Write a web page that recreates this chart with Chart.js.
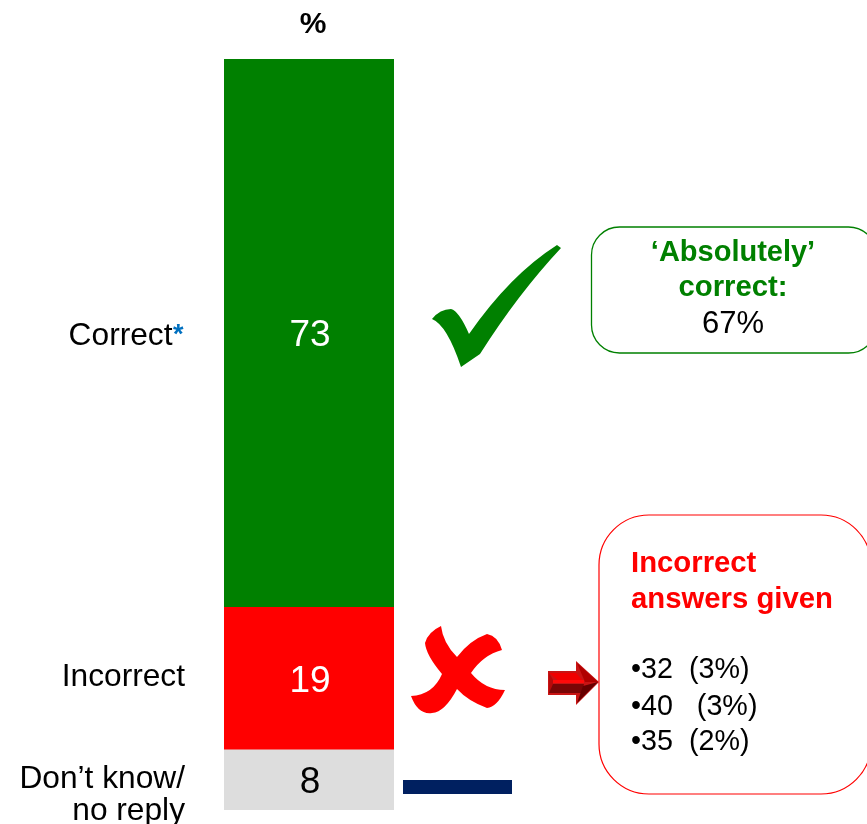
<!DOCTYPE html>
<html>
<head>
<meta charset="utf-8">
<script src="https://cdn.jsdelivr.net/npm/chart.js@4"></script>
<style>html,body{margin:0;padding:0;background:#fff;overflow:hidden}canvas{display:block}</style>
</head>
<body>
<canvas id="c" width="867" height="824"></canvas>
<script>
const categories = ["%"];
const seriesNames = ["Don’t know/ no reply", "Incorrect", "Correct"];
const dontKnow = [8];
const incorrect = [19];
const correct = [73];
const seriesColors = ["#dddddd", "#ff0000", "#008000"];
const valueColors = ["#000000", "#ffffff", "#ffffff"];
const absolutelyCorrect = "67%";
const incorrectAnswers = ["•32  (3%)", "•40   (3%)", "•35  (2%)"];

const FONT = '"Liberation Sans", Arial, sans-serif';

function roundBox(ctx, x, y, w, h, r, color, lw) {
  ctx.beginPath();
  ctx.roundRect(x, y, w, h, r);
  ctx.strokeStyle = color;
  ctx.lineWidth = lw;
  ctx.stroke();
}
function text(ctx, s, x, y, font, color, align) {
  ctx.font = font;
  ctx.fillStyle = color;
  ctx.textAlign = align || "left";
  ctx.textBaseline = "alphabetic";
  ctx.fillText(s, x, y);
}
function poly(ctx, pts, color) {
  ctx.beginPath();
  pts.forEach((p, i) => i ? ctx.lineTo(p[0], p[1]) : ctx.moveTo(p[0], p[1]));
  ctx.closePath();
  ctx.fillStyle = color;
  ctx.fill();
}

const overlay = {
  id: "overlay",
  afterDatasetsDraw(chart) {
    const ctx = chart.ctx, y = chart.scales.y, x = chart.scales.x;
    const cx = x.getPixelForValue(0);
    const mid = [dontKnow[0] / 2, dontKnow[0] + incorrect[0] / 2, dontKnow[0] + incorrect[0] + correct[0] / 2];
    const vals = [dontKnow[0], incorrect[0], correct[0]];
    ctx.save();

    // header
    text(ctx, categories[0], cx + 4, 33, "bold 30px " + FONT, "#000", "center");

    // values inside the bars
    vals.forEach((v, i) => text(ctx, String(v), cx + 1, y.getPixelForValue(mid[i]) + 13, "37px " + FONT, valueColors[i], "center"));

    // category labels
    const labelFont = "31.7px " + FONT;
    text(ctx, "Correct", 172.5, y.getPixelForValue(mid[2]) + 12, labelFont, "#000", "right");
    text(ctx, "*", 173, 343, "bold 27px " + FONT, "#0070c0", "left");
    text(ctx, seriesNames[1], 185, y.getPixelForValue(mid[1]) + 7, labelFont, "#000", "right");
    text(ctx, "Don’t know/", 185, 788, labelFont, "#000", "right");
    text(ctx, "no reply", 185, 820, labelFont, "#000", "right");

    // tick mark
    ctx.beginPath();
    ctx.moveTo(432, 319);
    ctx.quadraticCurveTo(440, 309, 451, 309);
    ctx.quadraticCurveTo(459, 311, 469, 334);
    ctx.quadraticCurveTo(510, 275, 557, 245);
    ctx.lineTo(561, 248);
    ctx.quadraticCurveTo(518, 294, 480, 354);
    ctx.lineTo(461, 367);
    ctx.quadraticCurveTo(447, 325, 432, 319);
    ctx.closePath();
    ctx.fillStyle = "#008000";
    ctx.fill();

    // cross mark
    ctx.beginPath();
    ctx.moveTo(441, 626);
    ctx.quadraticCurveTo(443, 643, 457, 657);
    ctx.quadraticCurveTo(470, 640, 487, 634);
    ctx.quadraticCurveTo(498, 636, 502, 650);
    ctx.quadraticCurveTo(483, 655, 471, 673);
    ctx.quadraticCurveTo(485, 690, 505, 690);
    ctx.quadraticCurveTo(497, 707, 487, 708);
    ctx.quadraticCurveTo(468, 701, 457, 689);
    ctx.quadraticCurveTo(445, 712, 432, 713);
    ctx.quadraticCurveTo(418, 715, 411, 696);
    ctx.quadraticCurveTo(433, 695, 442, 674);
    ctx.quadraticCurveTo(426, 655, 425, 643);
    ctx.quadraticCurveTo(428, 632, 441, 626);
    ctx.closePath();
    ctx.fillStyle = "#ff0000";
    ctx.fill();

    // bevelled arrow
    poly(ctx, [[548, 671], [576, 671], [576, 661], [599, 682], [576, 705], [576, 695], [548, 695]], "#c81414");
    poly(ctx, [[549, 673], [576, 673], [584, 682], [560, 682]], "#f00000");
    poly(ctx, [[553, 680], [584, 680], [584, 683], [553, 683]], "#ff0a0a");
    poly(ctx, [[549, 673], [553, 680], [553, 685], [549, 693]], "#b80a0a");
    poly(ctx, [[553, 684], [584, 684], [582, 693], [549, 693]], "#7a0606");
    poly(ctx, [[577, 663], [598, 682], [585, 682]], "#b00000");
    poly(ctx, [[598, 682], [577, 703], [583, 686]], "#660000");

    // dash for don't know
    poly(ctx, [[403, 780], [512, 780], [512, 794], [403, 794]], "#002060");

    // "Absolutely correct" box
    roundBox(ctx, 591.5, 227, 285, 126, 28, "#008000", 1.3);
    text(ctx, "‘Absolutely’", 733, 261, "bold 29px " + FONT, "#008000", "center");
    text(ctx, "correct:", 733, 296, "bold 29.3px " + FONT, "#008000", "center");
    text(ctx, absolutelyCorrect, 733, 333, "31px " + FONT, "#000", "center");

    // incorrect answers box
    roundBox(ctx, 599, 515, 272, 279, 50, "#ff0000", 1.2);
    text(ctx, "Incorrect", 631, 572, "bold 29.3px " + FONT, "#ff0000");
    text(ctx, "answers given", 631, 608, "bold 29.3px " + FONT, "#ff0000");
    const rows = [678, 715, 750];
    incorrectAnswers.forEach((s, i) => text(ctx, s, 631, rows[i], "28.7px " + FONT, "#000"));
    ctx.restore();
  }
};

new Chart(document.getElementById("c"), {
  type: "bar",
  data: {
    labels: categories,
    datasets: [
      { label: seriesNames[0], data: dontKnow, backgroundColor: seriesColors[0] },
      { label: seriesNames[1], data: incorrect, backgroundColor: seriesColors[1] },
      { label: seriesNames[2], data: correct, backgroundColor: seriesColors[2] }
    ]
  },
  options: {
    responsive: false,
    animation: false,
    layout: { padding: { left: 224, right: 473, top: 59, bottom: 14 } },
    plugins: { legend: { display: false }, tooltip: { enabled: false }, title: { display: false } },
    datasets: { bar: { barPercentage: 1, categoryPercentage: 1, borderWidth: 0 } },
    scales: {
      x: { stacked: true, display: false },
      y: { stacked: true, display: false, min: 0, max: 100 }
    }
  },
  plugins: [overlay]
});
</script>
</body>
</html>
